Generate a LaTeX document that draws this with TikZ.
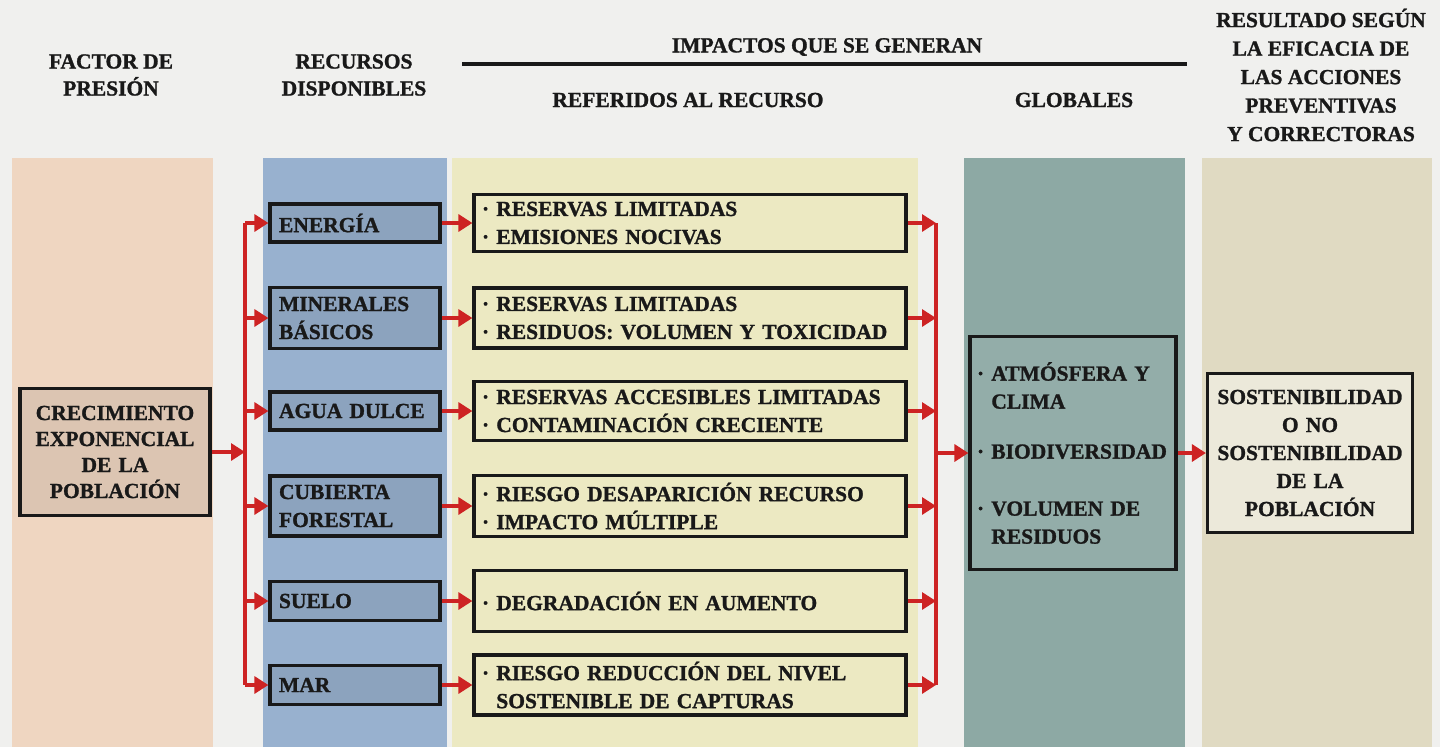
\documentclass[tikz,border=0pt]{standalone}
\usepackage{fontspec}
\setmainfont{Liberation Serif}[BoldFeatures={FakeBold=1.2}]
\usetikzlibrary{arrows.meta}
\definecolor{bgc}{RGB}{240,240,238}
\definecolor{peach}{RGB}{239,214,193}
\definecolor{bluec}{RGB}{152,177,207}
\definecolor{yelc}{RGB}{236,233,194}
\definecolor{tealc}{RGB}{141,169,164}
\definecolor{beigec}{RGB}{224,218,194}
\definecolor{redc}{RGB}{205,35,35}
\definecolor{inkc}{RGB}{25,25,25}
\tikzset{
  txt/.style={font=\fontsize{21.5}{27}\selectfont\bfseries, text=inkc, inner sep=0pt, align=center},
  boxbase/.style={draw=inkc, line width=3.2pt, font=\fontsize{21.5}{28}\selectfont\bfseries, text=inkc},
  resbox/.style={boxbase, fill=bluec!92!black, text width=152pt, inner xsep=9pt, inner ysep=0pt, align=left, minimum width=170pt},
  impbox/.style={boxbase, fill=yelc, text width=416pt, inner xsep=8pt, inner ysep=0pt, align=left, minimum width=432pt},
  conn/.style={draw=redc, line width=3.2pt, -{Triangle[length=14pt,width=17pt]}},
  bus/.style={draw=redc, line width=3.2pt}
}
\begin{document}
\begin{tikzpicture}[x=1pt,y=-1pt]
\useasboundingbox (0,0) rectangle (1440,747);
\fill[bgc] (0,0) rectangle (1440,747);
% columns
\fill[peach] (12,158) rectangle (213,747);
\fill[bluec] (263,158) rectangle (447,747);
\fill[yelc] (452,158) rectangle (918,747);
\fill[tealc] (964,158) rectangle (1185,747);
\fill[beigec] (1202,158) rectangle (1432,747);
% headers
\node[txt] (h1) at (111,75) {FACTOR DE\\PRESIÓN};
\node[txt] (h2) at (354,75) {RECURSOS\\DISPONIBLES};
\node[txt] (h3) at (827,47) {IMPACTOS QUE SE GENERAN};
\coordinate (hl1) at (462,64);
\coordinate (hl2) at (1187,64);
\draw[inkc, line width=3.5pt] (hl1) -- (hl2);
\node[txt] (h4) at (688,100) {REFERIDOS AL RECURSO};
\node[txt] (h5) at (1074,100) {GLOBALES};
\node[txt, font=\fontsize{21.5}{28.5}\selectfont\bfseries] (h6) at (1321,75) {RESULTADO SEGÚN\\LA EFICACIA DE\\LAS ACCIONES\\PREVENTIVAS\\Y CORRECTORAS};
% main boxes
\node[boxbase, fill=peach!92!black, minimum width=190pt, minimum height=127pt, align=center, text width=176pt, inner sep=0pt, font=\fontsize{21.5}{26}\selectfont\bfseries] (pop) at (115,452) {CRECIMIENTO\\EXPONENCIAL\\DE LA\\POBLACIÓN};
\node[resbox, minimum height=38pt] (r1) at (355,223) {ENERGÍA};
\node[resbox, minimum height=61pt] (r2) at (355,318) {MINERALES\\BÁSICOS};
\node[resbox, minimum height=38pt] (r3) at (355,411) {AGUA DULCE};
\node[resbox, minimum height=60pt] (r4) at (355,506) {CUBIERTA\\FORESTAL};
\node[resbox, minimum height=39pt] (r5) at (355,601) {SUELO};
\node[resbox, minimum height=39pt] (r6) at (355,685) {MAR};
\node[impbox, minimum height=57pt] (i1) at (690,223) {· RESERVAS LIMITADAS\\· EMISIONES NOCIVAS};
\node[impbox, minimum height=60pt] (i2) at (690,318) {· RESERVAS LIMITADAS\\· RESIDUOS: VOLUMEN Y TOXICIDAD};
\node[impbox, minimum height=59pt] (i3) at (690,411) {· RESERVAS ACCESIBLES LIMITADAS\\· CONTAMINACIÓN CRECIENTE};
\node[impbox, minimum height=61pt] (i4) at (690,506) {· RIESGO DESAPARICIÓN RECURSO\\· IMPACTO MÚLTIPLE};
\node[impbox, minimum height=61pt] (i5) at (690,601) {· DEGRADACIÓN EN AUMENTO};
\node[impbox, minimum height=60pt] (i6) at (690,685) {· RIESGO REDUCCIÓN DEL NIVEL\\\phantom{· }SOSTENIBLE DE CAPTURAS};
\node[boxbase, fill=tealc!95!white, minimum width=206pt, minimum height=233pt, text width=192pt, inner xsep=7pt, inner ysep=0pt, align=left] (glob) at (1073,453) {· ATMÓSFERA Y\\\phantom{· }CLIMA\\[22pt]· BIODIVERSIDAD\\[29pt]· VOLUMEN DE\\\phantom{· }RESIDUOS};
\node[boxbase, fill=beigec!60!white, minimum width=205pt, minimum height=159pt, text width=195pt, inner sep=0pt, align=center] (res) at (1310,453) {SOSTENIBILIDAD\\O NO\\SOSTENIBILIDAD\\DE LA\\POBLACIÓN};
% buses
\coordinate (bl1) at (245,223);
\coordinate (bl2) at (245,685);
\coordinate (br1) at (936,223);
\coordinate (br2) at (936,685);
\draw[bus] (bl1) -- (bl2);
\draw[bus] (br1) -- (br2);
% connectors
\draw[conn] (pop.east) -- (pop.east -| bl1);
\foreach \n in {r1,r2,r3,r4,r5,r6} { \draw[conn] (\n.west -| bl1) -- (\n.west); }
\draw[conn] (r1.east) -- (i1.west);
\draw[conn] (r2.east) -- (i2.west);
\draw[conn] (r3.east) -- (i3.west);
\draw[conn] (r4.east) -- (i4.west);
\draw[conn] (r5.east) -- (i5.west);
\draw[conn] (r6.east) -- (i6.west);
\foreach \n in {i1,i2,i3,i4,i5,i6} { \draw[conn] (\n.east) -- (\n.east -| br1); }
\draw[conn] (glob.west -| br1) -- (glob.west);
\draw[conn] (glob.east) -- (res.west);
\end{tikzpicture}
\end{document}
